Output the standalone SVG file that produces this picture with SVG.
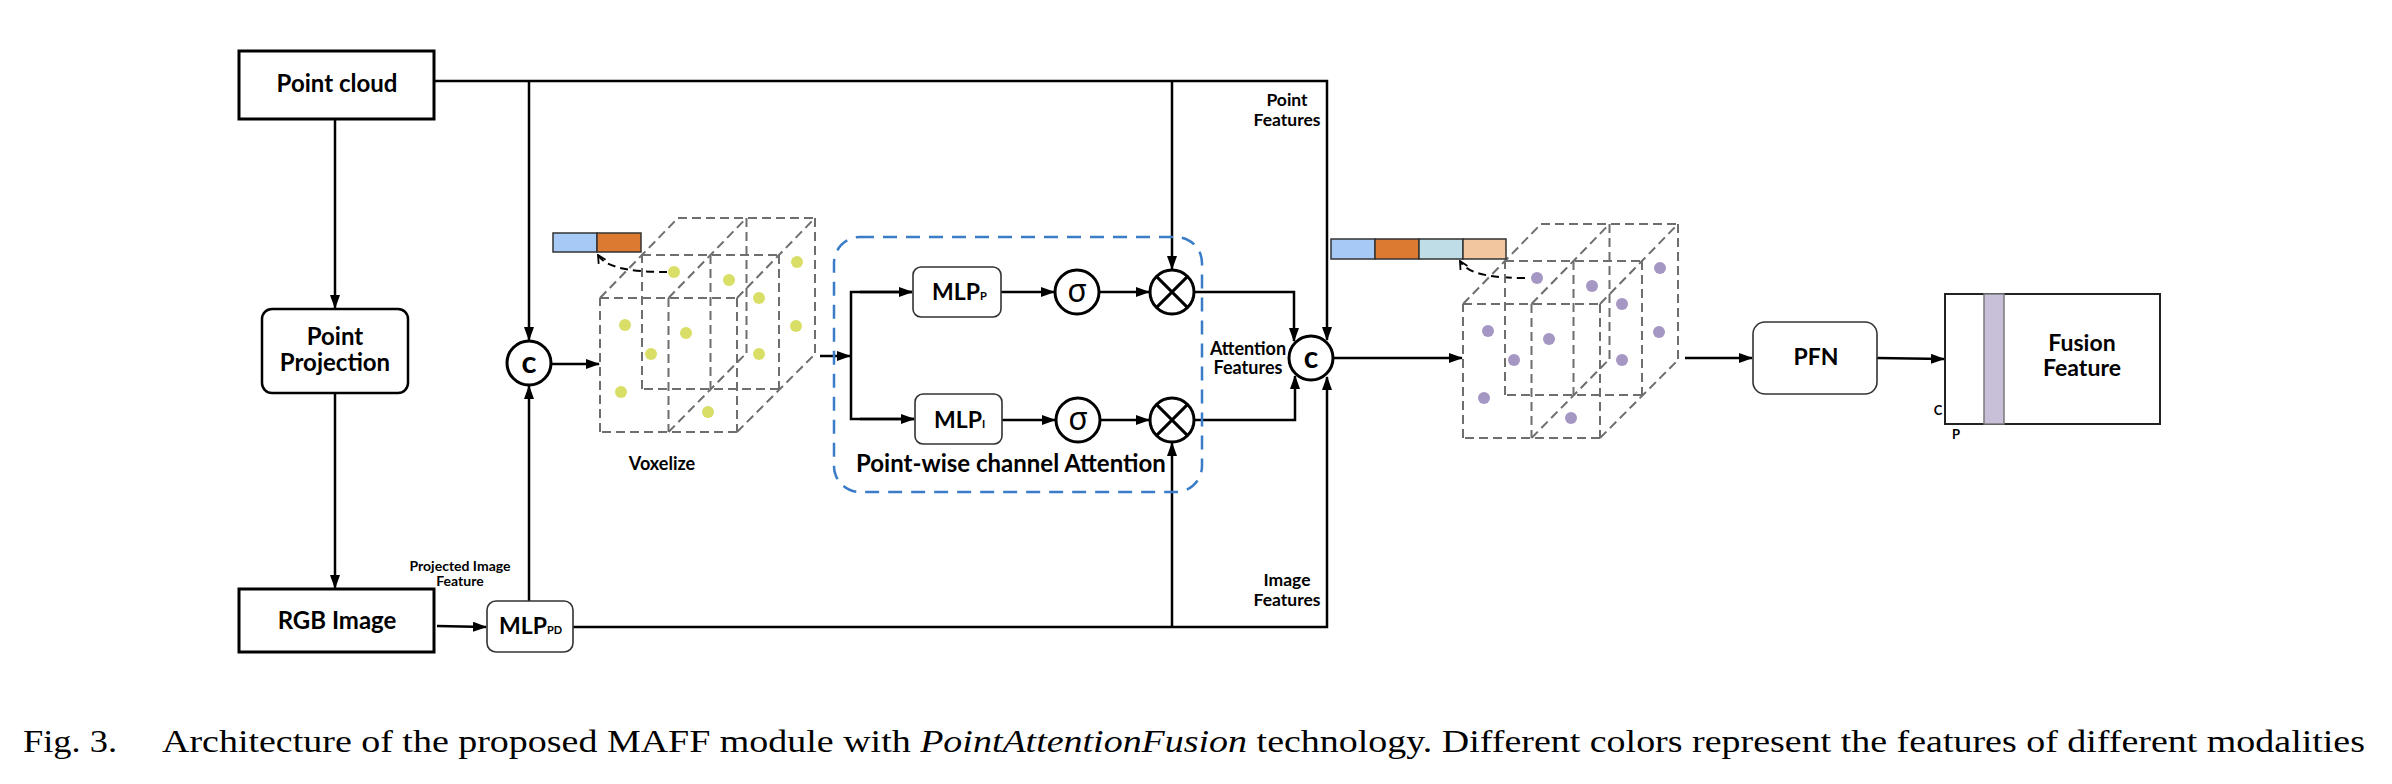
<svg xmlns="http://www.w3.org/2000/svg" xmlns:xlink="http://www.w3.org/1999/xlink" width="2392" height="784" viewBox="0 0 2392 784">
<style>
  .lbl{font-family:Lato,"Liberation Sans",sans-serif;font-weight:700;fill:#000;}
  .box{fill:#fff;stroke:#000;stroke-width:3;}
  .rbox{fill:#fff;stroke:#333;stroke-width:1.6;}
  .op{fill:#fff;stroke:#000;stroke-width:3;}
  .wire{fill:none;stroke:#000;stroke-width:2.5;}
  .cube line{stroke:#6e6e6e;stroke-width:2;stroke-dasharray:9 5;}
  .dash{fill:none;stroke:#000;stroke-width:2;stroke-dasharray:8 5;}
  .cap{font-family:"Liberation Serif","Times New Roman",serif;fill:#000;}
</style>
<defs>
  <marker id="ah" markerUnits="userSpaceOnUse" markerWidth="14" markerHeight="10" refX="13" refY="5" orient="auto">
    <path d="M0,0 L14,5 L0,10 z" fill="#000"/>
  </marker>
  <marker id="ahs" markerUnits="userSpaceOnUse" markerWidth="10" markerHeight="10" refX="9" refY="5" orient="auto">
    <path d="M1,1 L9,5 L1,9" fill="none" stroke="#000" stroke-width="1.8"/>
  </marker>
  <g id="cubeFrame" class="cube">
    <line x1="0" y1="0" x2="137" y2="0"/>
    <line x1="137" y1="0" x2="137" y2="134"/>
    <line x1="137" y1="134" x2="0" y2="134"/>
    <line x1="0" y1="134" x2="0" y2="0"/>
    <line x1="68.5" y1="0" x2="68.5" y2="134"/>
    <line x1="42" y1="-43" x2="179" y2="-43"/>
    <line x1="179" y1="-43" x2="179" y2="91"/>
    <line x1="179" y1="91" x2="42" y2="91"/>
    <line x1="42" y1="91" x2="42" y2="-43"/>
    <line x1="110.5" y1="-43" x2="110.5" y2="91"/>
    <line x1="78" y1="-80" x2="215" y2="-80"/>
    <line x1="215" y1="-80" x2="215" y2="56"/>
    <line x1="146.5" y1="-80" x2="146.5" y2="55"/>
    <line x1="0" y1="0" x2="78" y2="-80"/>
    <line x1="68.5" y1="0" x2="146.5" y2="-80"/>
    <line x1="137" y1="0" x2="215" y2="-80"/>
    <line x1="68.5" y1="134" x2="146.5" y2="55"/>
    <line x1="137" y1="134" x2="215" y2="56"/>
  </g>
  <g id="cubeDots">
    <circle cx="74" cy="-26" r="6"/>
    <circle cx="129" cy="-18" r="6"/>
    <circle cx="197" cy="-36" r="6"/>
    <circle cx="159" cy="0" r="6"/>
    <circle cx="196" cy="28" r="6"/>
    <circle cx="159" cy="56" r="6"/>
    <circle cx="25" cy="27" r="6"/>
    <circle cx="86" cy="35" r="6"/>
    <circle cx="51" cy="56" r="6"/>
    <circle cx="21" cy="94" r="6"/>
    <circle cx="108" cy="114" r="6"/>
  </g>
</defs>
<rect x="0" y="0" width="2392" height="784" fill="#fff"/>

<g id="connectors">
  <!-- point cloud top bus -->
  <polyline class="wire" points="434,81 1327,81 1327,340" marker-end="url(#ah)"/>
  <line class="wire" x1="529" y1="81" x2="529" y2="340" marker-end="url(#ah)"/>
  <line class="wire" x1="1172" y1="81" x2="1172" y2="269" marker-end="url(#ah)"/>
  <!-- down chain -->
  <line class="wire" x1="335" y1="119" x2="335" y2="308" marker-end="url(#ah)"/>
  <line class="wire" x1="335" y1="393" x2="335" y2="588" marker-end="url(#ah)"/>
  <line class="wire" x1="437" y1="626" x2="486" y2="627" marker-end="url(#ah)"/>
  <!-- MLP_PD up to concat -->
  <line class="wire" x1="529" y1="601" x2="529" y2="386" marker-end="url(#ah)"/>
  <!-- image bus -->
  <polyline class="wire" points="573,627 1327,627 1327,377" marker-end="url(#ah)"/>
  <line class="wire" x1="1172" y1="627" x2="1172" y2="443" marker-end="url(#ah)"/>
  <!-- concat to cube -->
  <line class="wire" x1="551" y1="364" x2="599" y2="364" marker-end="url(#ah)"/>
  <!-- cube to split -->
  <line class="wire" x1="820" y1="356" x2="850" y2="356" marker-end="url(#ah)"/>
  <polyline class="wire" points="912,292 851,292 851,419 914,419"/>
  <line class="wire" x1="860" y1="292" x2="912" y2="292" marker-end="url(#ah)"/>
  <line class="wire" x1="860" y1="419" x2="914" y2="419" marker-end="url(#ah)"/>
  <!-- attention branches -->
  <line class="wire" x1="1001" y1="292" x2="1054" y2="292" marker-end="url(#ah)"/>
  <line class="wire" x1="1099" y1="292" x2="1149" y2="292" marker-end="url(#ah)"/>
  <line class="wire" x1="1002" y1="420" x2="1055" y2="420" marker-end="url(#ah)"/>
  <line class="wire" x1="1100" y1="420" x2="1149" y2="420" marker-end="url(#ah)"/>
  <polyline class="wire" points="1194,292 1294,292 1294,341" marker-end="url(#ah)"/>
  <polyline class="wire" points="1195,420 1295,420 1295,376" marker-end="url(#ah)"/>
  <!-- concat2 to cube2 -->
  <line class="wire" x1="1333" y1="358" x2="1462" y2="358" marker-end="url(#ah)"/>
  <line class="wire" x1="1685" y1="358" x2="1752" y2="358" marker-end="url(#ah)"/>
  <line class="wire" x1="1877" y1="358" x2="1944" y2="359" marker-end="url(#ah)"/>
  <!-- dashed feature lookups -->
  <path class="dash" d="M667,272 C640,272 607,270 598,255" marker-end="url(#ahs)"/>
  <path class="dash" d="M1525,278 C1495,278 1468,275 1460,261" marker-end="url(#ahs)"/>
</g>

<g id="point-cloud">
  <rect class="box" x="239" y="51" width="195" height="68"/>
  <text class="lbl" x="337" y="92" font-size="24" text-anchor="middle">Point cloud</text>
</g>
<g id="point-projection">
  <rect class="box" x="262" y="309" width="146" height="84" rx="10" style="stroke-width:2.5"/>
  <text class="lbl" x="335" y="345" font-size="24" text-anchor="middle">Point</text>
  <text class="lbl" x="335" y="371" font-size="24" text-anchor="middle">Projection</text>
</g>
<g id="rgb-image">
  <rect class="box" x="239" y="589" width="195" height="63"/>
  <text class="lbl" x="337" y="629" font-size="24" text-anchor="middle">RGB Image</text>
</g>
<g id="mlp-pd">
  <rect class="rbox" x="487" y="601" width="86" height="51" rx="9"/>
  <text class="lbl" x="499" y="634" font-size="23">MLP<tspan font-size="11">PD</tspan></text>
</g>
<g id="projected-image-feature-label">
  <text class="lbl" x="460" y="571" font-size="14" text-anchor="middle">Projected Image</text>
  <text class="lbl" x="460" y="586" font-size="14" text-anchor="middle">Feature</text>
</g>
<g id="concat-1">
  <circle class="op" cx="529" cy="363" r="22"/>
  <text class="lbl" x="529" y="373" font-size="31" text-anchor="middle">c</text>
</g>
<g id="voxel-cube">
  <use xlink:href="#cubeFrame" href="#cubeFrame" transform="translate(600,298)"/>
  <use xlink:href="#cubeDots" href="#cubeDots" transform="translate(600,298)" fill="#d9df66"/>
  <rect x="553" y="233" width="44" height="19" fill="#a6c9f5" stroke="#333" stroke-width="1.5"/>
  <rect x="597" y="233" width="44" height="19" fill="#dc7a32" stroke="#333" stroke-width="1.5"/>
  <text class="lbl" x="662" y="470" font-size="18" text-anchor="middle">Voxelize</text>
</g>
<g id="point-wise-channel-attention">
  <rect x="834" y="237" width="368" height="255" rx="26" fill="none" stroke="#3a7cc8" stroke-width="2.5" stroke-dasharray="14 9"/>
  <text class="lbl" x="856" y="472" font-size="24">Point-wise channel Attention</text>
</g>
<g id="mlp-p">
  <rect class="rbox" x="913" y="267" width="88" height="50" rx="8"/>
  <text class="lbl" x="932" y="300" font-size="23">MLP<tspan font-size="11">P</tspan></text>
</g>
<g id="mlp-i">
  <rect class="rbox" x="915" y="394" width="87" height="50" rx="8"/>
  <text class="lbl" x="934" y="428" font-size="23">MLP<tspan font-size="11">I</tspan></text>
</g>
<g id="sigma-p">
  <circle class="op" cx="1077" cy="292" r="22"/>
  <text x="1077" y="302" font-size="32" text-anchor="middle" font-family="'Noto Sans','DejaVu Sans',sans-serif">σ</text>
</g>
<g id="sigma-i">
  <circle class="op" cx="1078" cy="420" r="22"/>
  <text x="1078" y="430" font-size="32" text-anchor="middle" font-family="'Noto Sans','DejaVu Sans',sans-serif">σ</text>
</g>
<g id="mult-p">
  <circle class="op" cx="1172" cy="292" r="22"/>
  <path class="wire" d="M1156.4,276.4 L1187.6,307.6 M1187.6,276.4 L1156.4,307.6" style="stroke-width:3"/>
</g>
<g id="mult-i">
  <circle class="op" cx="1172" cy="420" r="22"/>
  <path class="wire" d="M1156.4,404.4 L1187.6,435.6 M1187.6,404.4 L1156.4,435.6" style="stroke-width:3"/>
</g>
<g id="point-features-label">
  <text class="lbl" x="1287" y="106" font-size="17.5" text-anchor="middle">Point</text>
  <text class="lbl" x="1287" y="126" font-size="17.5" text-anchor="middle">Features</text>
</g>
<g id="attention-features-label">
  <text class="lbl" x="1248" y="355" font-size="18" text-anchor="middle">Attention</text>
  <text class="lbl" x="1248" y="374" font-size="18" text-anchor="middle">Features</text>
</g>
<g id="image-features-label">
  <text class="lbl" x="1287" y="586" font-size="17.5" text-anchor="middle">Image</text>
  <text class="lbl" x="1287" y="606" font-size="17.5" text-anchor="middle">Features</text>
</g>
<g id="concat-2">
  <circle class="op" cx="1311" cy="358" r="22"/>
  <text class="lbl" x="1311" y="368" font-size="30" text-anchor="middle">c</text>
</g>
<g id="fused-cube">
  <use xlink:href="#cubeFrame" href="#cubeFrame" transform="translate(1463,304)"/>
  <use xlink:href="#cubeDots" href="#cubeDots" transform="translate(1463,304)" fill="#a597c3"/>
  <rect x="1331" y="239" width="44" height="20" fill="#a6c9f5" stroke="#333" stroke-width="1.5"/>
  <rect x="1375" y="239" width="44" height="20" fill="#dc7a32" stroke="#333" stroke-width="1.5"/>
  <rect x="1419" y="239" width="44" height="20" fill="#bfdde6" stroke="#333" stroke-width="1.5"/>
  <rect x="1463" y="239" width="43" height="20" fill="#f2c7a0" stroke="#333" stroke-width="1.5"/>
</g>
<g id="pfn">
  <rect class="rbox" x="1753" y="322" width="124" height="72" rx="12"/>
  <text class="lbl" x="1816" y="365" font-size="23" text-anchor="middle">PFN</text>
</g>
<g id="fusion-feature">
  <rect x="1945" y="294" width="215" height="130" fill="#fff" stroke="#222" stroke-width="2"/>
  <rect x="1984" y="294" width="20" height="130" fill="#c8c0d8" stroke="#7a7a7a" stroke-width="1.5"/>
  <text class="lbl" x="2082" y="351" font-size="23" text-anchor="middle">Fusion</text>
  <text class="lbl" x="2082" y="376" font-size="23" text-anchor="middle">Feature</text>
  <text class="lbl" x="1938" y="415" font-size="13" text-anchor="middle">C</text>
  <text class="lbl" x="1956" y="439" font-size="13" text-anchor="middle">P</text>
</g>
<g id="caption">
  <text class="cap" x="23" y="752" font-size="32" textLength="94" lengthAdjust="spacingAndGlyphs">Fig. 3.</text>
  <text class="cap" x="162" y="752" font-size="32" textLength="2203" lengthAdjust="spacingAndGlyphs">Architecture of the proposed MAFF module with <tspan font-style="italic">PointAttentionFusion</tspan> technology. Different colors represent the features of different modalities</text>
</g>
</svg>
